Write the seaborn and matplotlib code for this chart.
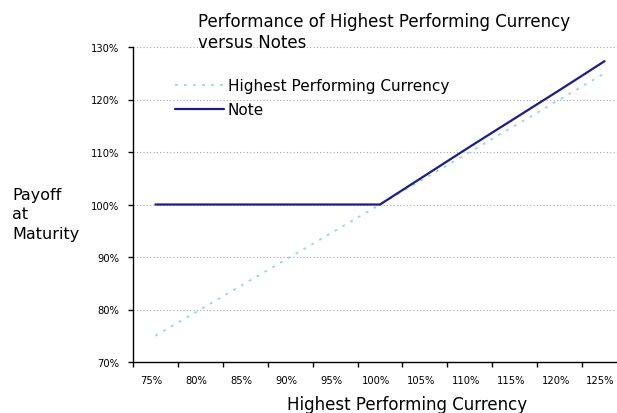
import numpy as np
import pandas as pd
import matplotlib
matplotlib.use("Agg")
import matplotlib.pyplot as plt
import matplotlib.transforms as mtransforms
import seaborn as sns

# values (percent)
categories = ['75%', '80%', '85%', '90%', '95%', '100%',
              '105%', '110%', '115%', '120%', '125%']
currency = [75, 80, 85, 90, 95, 100, 105, 110, 115, 120, 125]
note = [100, 100, 100, 100, 100, 100, 105.5, 111.0, 116.4, 121.8, 127.3]
y_ticks = [70, 80, 90, 100, 110, 120, 130]

sns.set_style("white")
plt.rcParams['font.family'] = ['DejaVu Sans']
plt.rcParams['text.color'] = 'black'
plt.rcParams['xtick.color'] = 'black'
plt.rcParams['ytick.color'] = 'black'

df = pd.DataFrame({
    'pos': np.arange(len(categories)),
    'currency': currency,
    'note': note,
})

W, H = 617, 414
fig = plt.figure(figsize=(W / 100, H / 100), dpi=100)
# axes spans pixel x 133..627 (right end runs off the canvas), y 48..363
ax = fig.add_axes([133 / W, 1 - 363 / H, (627 - 133) / W, (363 - 48) / H])

sns.lineplot(data=df, x='pos', y='currency', ax=ax, color='#99ccff',
             linewidth=1.3, linestyle=(0, (1.5, 3.5)),
             label='Highest Performing Currency')
sns.lineplot(data=df, x='pos', y='note', ax=ax, color='#1c1c8c',
             linewidth=1.6, label='Note')

ax.set_xlim(-0.5, len(categories) - 0.5)
ax.set_ylim(70, 130)

# category axis: labels centred, tick marks on the boundaries
ax.set_xticks(df['pos'])
ax.set_xticklabels(categories)
ax.set_xticks(np.arange(-0.5, len(categories), 1.0), minor=True)
ax.tick_params(axis='x', which='major', bottom=True, length=0, pad=9.5,
               labelsize=7.2, labelcolor='black')
ax.tick_params(axis='x', which='minor', bottom=True, length=3.6, width=1.0,
               direction='out', color='black')
# labels sit a touch left of the category centre in the reference
shift = mtransforms.ScaledTranslation(-4 / 100, 0, fig.dpi_scale_trans)
for lab in ax.get_xticklabels():
    lab.set_transform(lab.get_transform() + shift)

ax.set_yticks(y_ticks)
ax.set_yticklabels([f'{v}%' for v in y_ticks])
ax.tick_params(axis='y', left=True, length=3.6, width=1.0, direction='out',
               color='black', pad=6.5, labelsize=7.2, labelcolor='black')

ax.yaxis.grid(True, linestyle=(0, (1, 2)), color='#a8a8a8', linewidth=0.8)
ax.xaxis.grid(False)
ax.set_axisbelow(True)

for side in ['top', 'right']:
    ax.spines[side].set_visible(False)
for side in ['left', 'bottom']:
    ax.spines[side].set_color('black')
    ax.spines[side].set_linewidth(1.0)

ax.set_xlabel('')
ax.set_ylabel('')

ax.legend(loc='upper left', bbox_to_anchor=(175 / W, 1 - 79 / H),
          bbox_transform=fig.transFigure, frameon=False, fontsize=11,
          borderpad=0, borderaxespad=0, handlelength=3.2,
          handletextpad=0.25, labelspacing=0.62, labelcolor='black')

fig.text(198 / W, 1 - 13 / H,
         'Performance of Highest Performing Currency\nversus Notes',
         ha='left', va='top', fontsize=12, linespacing=1.2)
fig.text(12 / W, 1 - 215 / H, 'Payoff\nat\nMaturity',
         ha='left', va='center', fontsize=11.5, linespacing=1.35)
fig.text(407 / W, 1 - 405 / H, 'Highest Performing Currency',
         ha='center', va='center', fontsize=12)

fig.savefig('out.png', dpi=100)
